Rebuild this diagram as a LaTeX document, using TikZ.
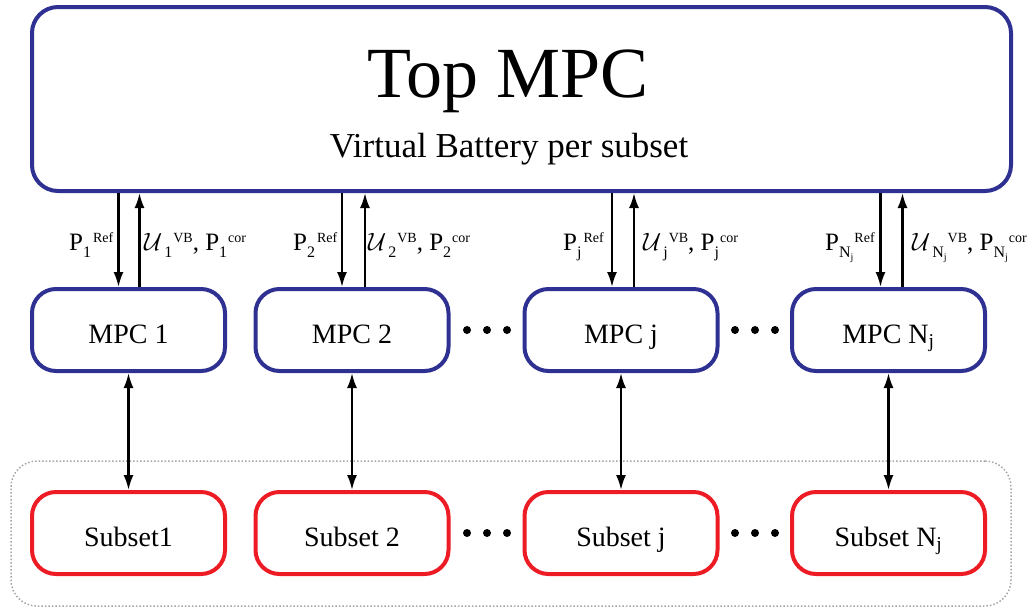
\documentclass[tikz,border=0pt]{standalone}
\usepackage{fix-cm}
\usepackage{fontspec}
\setmainfont{Liberation Serif}
\usetikzlibrary{arrows.meta}
\definecolor{mpcblue}{RGB}{46,49,146}
\definecolor{subred}{RGB}{237,28,36}
\definecolor{groupgray}{RGB}{165,165,165}

% lowered and raised indices used in the signal labels
\newcommand{\lowidx}[1]{\raisebox{-7pt}{\fontsize{16}{16}\selectfont #1}}
\newcommand{\highidx}[1]{\raisebox{8pt}{\fontsize{14}{14}\selectfont #1}}
\newcommand{\idxNj}{N\raisebox{-3pt}{\fontsize{10}{10}\selectfont j}}

\begin{document}
\begin{tikzpicture}[x=1pt,y=-1pt,
  topbox/.style={draw=mpcblue,line width=4pt,rounded corners=26pt,
    minimum width=979pt,minimum height=184pt},
  mpcbox/.style={draw=mpcblue,line width=4pt,rounded corners=24pt,
    minimum width=193pt,minimum height=82pt,
    font=\fontsize{28}{32}\selectfont,text height=26pt,text depth=0pt},
  subbox/.style={mpcbox,draw=subred},
  groupbox/.style={draw=groupgray,dotted,line width=1.5pt,rounded corners=26pt,
    minimum width=1000pt,minimum height=145pt},
  link/.style={line width=2.2pt,-{Latex[length=15pt,width=10pt]}},
  twoway/.style={line width=2.2pt,{Latex[length=15pt,width=10pt]}-{Latex[length=15pt,width=10pt]}},
  lbl/.style={font=\fontsize{25}{29}\selectfont,inner sep=0pt,anchor=base west},
  ellipsisdot/.style={circle,fill,inner sep=0pt,minimum size=8pt},
]
\useasboundingbox (0,0) rectangle (1035,611);

% top level controller
\node[topbox] (top) at (521.5,99) {};
\node[font=\fontsize{72}{80}\selectfont,anchor=base] (title) at (508,97) {Top MPC};
\node[font=\fontsize{35}{40}\selectfont,anchor=base] (subtitle) at (509,157) {Virtual Battery per subset};

% group of subsets
\node[groupbox] (group) at (511,533.5) {};

% local controllers
\node[mpcbox] (m1) at (128.5,330) {MPC 1};
\node[mpcbox] (m2) at (352,330) {MPC 2};
\node[mpcbox] (mj) at (621,330) {MPC j};
\node[mpcbox] (mn) at (888.5,330) {MPC N\textsubscript{j}};

% subsets
\node[subbox] (s1) at (128.5,533) {Subset1};
\node[subbox] (s2) at (352,533) {Subset 2};
\node[subbox] (sj) at (621,533) {Subset j};
\node[subbox] (sn) at (888.5,533) {Subset N\textsubscript{j}};

% ellipses between boxes
\foreach \x [count=\i] in {467,487,507,735,755,775}{
  \node[ellipsisdot] (dm\i) at (\x,330) {};
  \node[ellipsisdot] (ds\i) at (\x,533) {};
}

% references down, virtual battery and corrections up
\foreach \m/\dl/\ul in {m1/-10/11, m2/-10/13, mj/-9/13, mn/-8/14}{
  \draw[link] ([xshift=\dl pt]\m.north |- top.south) -- ([xshift=\dl pt]\m.north);
  \draw[link] ([xshift=\ul pt]\m.north) -- ([xshift=\ul pt]\m.north |- top.south);
}

% controller <-> subset
\draw[twoway] (m1.south) -- (s1.north);
\draw[twoway] (m2.south) -- (s2.north);
\draw[twoway] (mj.south) -- (sj.north);
\draw[twoway] (mn.south) -- (sn.north);

% signal labels
\node[lbl] (r1) at (69,250) {P\lowidx{1}\hspace{2pt}\highidx{Ref}};
\node[lbl] (u1) at (144,250) {$\mathcal{U}$\hspace{2pt}\lowidx{1}\hspace{1pt}\highidx{VB}, P\lowidx{1}\hspace{1pt}\highidx{cor}};
\node[lbl] (r2) at (293,250) {P\lowidx{2}\hspace{2pt}\highidx{Ref}};
\node[lbl] (u2) at (368,250) {$\mathcal{U}$\hspace{2pt}\lowidx{2}\hspace{1pt}\highidx{VB}, P\lowidx{2}\hspace{1pt}\highidx{cor}};
\node[lbl] (rj) at (563,250) {P\lowidx{j}\hspace{2pt}\highidx{Ref}};
\node[lbl] (uj) at (643,250) {$\mathcal{U}$\hspace{2pt}\lowidx{j}\hspace{1pt}\highidx{VB}, P\lowidx{j}\hspace{1pt}\highidx{cor}};
\node[lbl] (rn) at (825,250) {P\lowidx{\idxNj}\hspace{1pt}\highidx{Ref}};
\node[lbl] (un) at (912,250) {$\mathcal{U}$\hspace{2pt}\lowidx{\idxNj}\hspace{1pt}\highidx{VB}, P\lowidx{\idxNj}\hspace{1pt}\highidx{cor}};
\end{tikzpicture}
\end{document}
